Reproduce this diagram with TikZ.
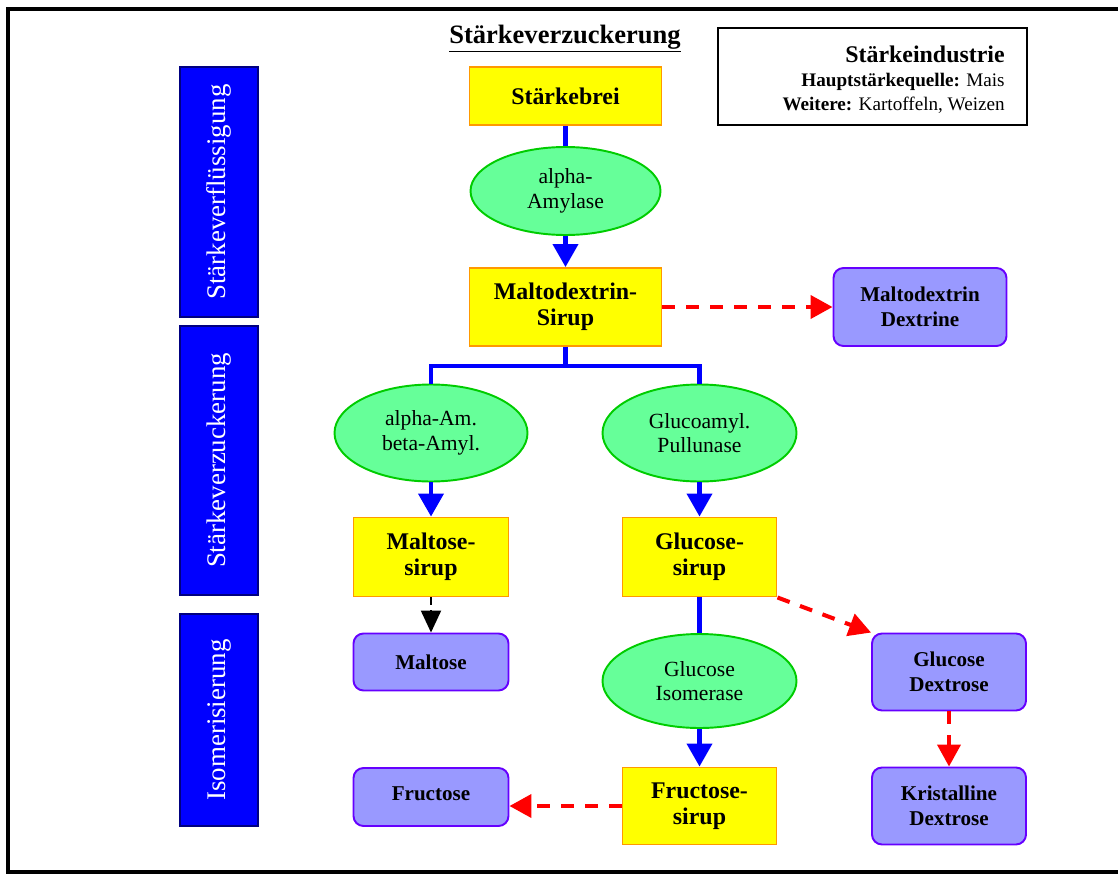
\documentclass[tikz,border=0pt]{standalone}
\usepackage{fontspec}
\setmainfont{Liberation Serif}
\usetikzlibrary{shapes.geometric,arrows.meta}
\definecolor{syel}{HTML}{FFFF00}
\definecolor{sorange}{HTML}{FF9900}
\definecolor{sgreen}{HTML}{66FF99}
\definecolor{sgreenb}{HTML}{00CC00}
\definecolor{spurple}{HTML}{9999FF}
\definecolor{spurpleb}{HTML}{6600FF}
\definecolor{sblue}{HTML}{0000FF}
\definecolor{sred}{HTML}{FF0000}
\definecolor{snavy}{HTML}{000080}
\begin{document}
\begin{tikzpicture}[x=0.02cm,y=-0.02cm,
  sz/.style 2 args={minimum width=#1*0.02cm, minimum height=#2*0.02cm},
  syrup/.style={draw=sorange, line width=1.1pt, fill=syel, inner sep=0pt, align=center,
     font=\fontsize{13.6}{14.8}\selectfont\bfseries},
  enzyme/.style={ellipse, draw=sgreenb, line width=1.1pt, fill=sgreen, inner sep=0pt, align=center,
     font=\fontsize{12.3}{14}\selectfont},
  product/.style={draw=spurpleb, line width=1.1pt, fill=spurple, rounded corners=0.2cm, inner sep=0pt,
     align=center, font=\fontsize{12}{14.2}\selectfont\bfseries},
  phase/.style={draw=snavy, line width=0.6pt, fill=sblue, inner sep=0pt},
  phasetext/.style={rotate=90, text=white, font=\fontsize{15.3}{17}\selectfont},
  flow/.style={draw=sblue, line width=2.3pt},
  flowarrow/.style={flow, -{Triangle[width=0.5cm,length=0.46cm]}},
  side/.style={draw=sred, line width=2.3pt, dash pattern=on 0.26cm off 0.22cm,
     -{Triangle[width=0.46cm,length=0.44cm]}},
  minor/.style={draw=black, line width=1.2pt, dash pattern=on 0.16cm off 0.1cm,
     -{Triangle[width=0.4cm,length=0.44cm]}},
  infobox/.style={draw=black, line width=1.3pt, inner sep=0pt},
  frame/.style={draw=black, line width=1.8pt}
]
\useasboundingbox (0,0) rectangle (1118,875);
\clip (0,0) rectangle (1118,875);
% outer frame
\draw[frame] (1130,9) -- (8,9) -- (8,872) -- (1130,872);

% title
\node[font=\fontsize{15.1}{18}\selectfont\bfseries] (title) at (565,39) {\underline{Stärkeverzuckerung}};

% info box
\node[infobox, sz={309}{97}] (info) at (872.5,76.5) {};
\node[anchor=north east, align=right, inner sep=0pt, font=\fontsize{10.9}{13.6}\selectfont] (infotext) at (1005,46)
  {{\fontsize{13.6}{13.6}\selectfont\bfseries Stärkeindustrie}\\
   \textbf{Hauptstärkequelle:} Mais\\
   \textbf{Weitere:} Kartoffeln, Weizen};

% phase bars
\node[phase, sz={78}{250}] (p1) at (219,192) {};
\node[phasetext] (p1t) at (p1.center) {Stärkeverflüssigung};
\node[phase, sz={78}{269}] (p2) at (219,460.5) {};
\node[phasetext] (p2t) at (p2.center) {Stärkeverzuckerung};
\node[phase, sz={78}{212}] (p3) at (219,720) {};
\node[phasetext] (p3t) at (p3.center) {Isomerisierung};

% main nodes
\node[syrup, sz={192}{58}] (sb) at (565.5,96) {Stärkebrei};
\node[enzyme, sz={190}{88}] (e1) at (565.5,191) {alpha-\\Amylase};
\node[syrup, sz={192}{78}] (md) at (565.5,307) {Maltodextrin-\\Sirup};
\node[product, sz={173}{78}] (mdx) at (920,307) {Maltodextrin\\Dextrine};
\node[enzyme, sz={193}{97}] (e2) at (431,433) {alpha-Am.\\beta-Amyl.};
\node[enzyme, sz={194}{97}] (e3) at (699.5,433) {Glucoamyl.\\Pullunase};
\node[syrup, sz={155}{79}] (ms) at (431,557) {Maltose-\\sirup};
\node[syrup, sz={154}{79}] (gs) at (699.5,557) {Glucose-\\sirup};
\node[product, sz={155}{57}] (mal) at (431,662) {Maltose};
\node[enzyme, sz={194}{94}] (e4) at (699.5,681) {Glucose\\Isomerase};
\node[product, sz={154}{77}] (gd) at (949,672) {Glucose\\Dextrose};
\node[syrup, sz={154}{77}] (fs) at (699.5,806) {Fructose-\\sirup};
\node[product, sz={155}{58}, text depth=4pt] (fru) at (431,797) {Fructose};
\node[product, sz={154}{77}] (kd) at (949,806) {Kristalline\\Dextrose};

% connectors
\draw[flow] (sb.south) -- (e1.north);
\draw[flowarrow] (e1.south) -- (md.north);
\draw[flow] (md.south) -- ++(0,19) -| (e2.north);
\draw[flow] (md.south) -- ++(0,19) -| (e3.north);
\draw[flowarrow] (e2.south) -- (ms.north);
\draw[flowarrow] (e3.south) -- (gs.north);
\draw[flow] (gs.south) -- (e4.north);
\draw[flowarrow] (e4.south) -- (fs.north);
\draw[side] (md.east) -- (mdx.west);
\draw[side] (gs.south east) -- (gd.north west);
\draw[side] (gd.south) -- (kd.north);
\draw[side] (fs.west) -- (fs.west -| fru.east);
\draw[minor] (ms.south) -- (mal.north);
\end{tikzpicture}
\end{document}
